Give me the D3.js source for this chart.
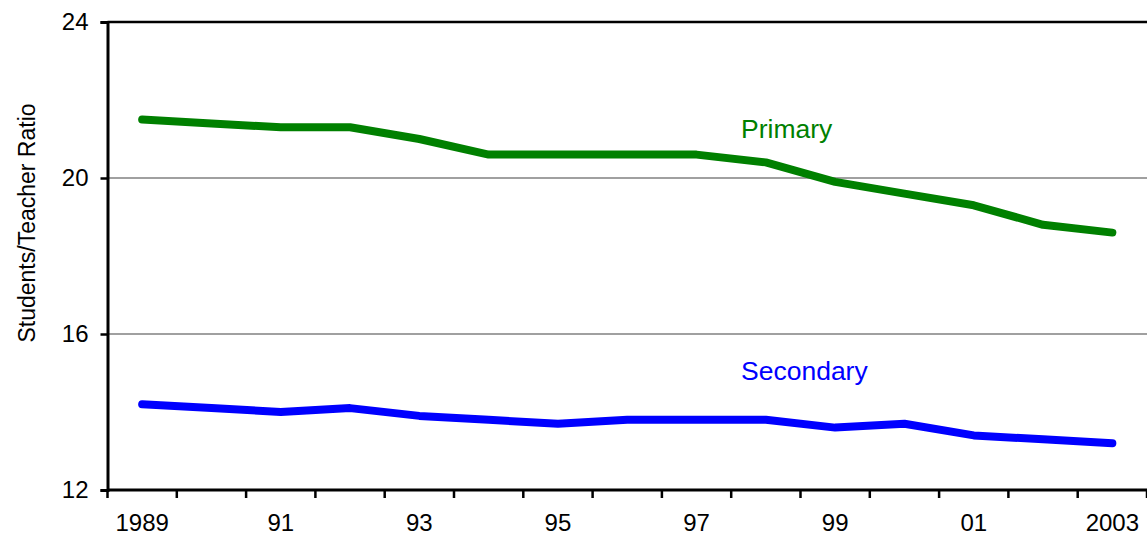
<!DOCTYPE html>
<html><head><meta charset="utf-8">
<script src="https://cdn.jsdelivr.net/npm/d3@7/dist/d3.min.js"></script>
<style>body{margin:0;background:#fff}svg{display:block}text{font-family:"Liberation Sans",Arial,sans-serif}</style>
</head><body><svg id="c" width="1147" height="535"></svg>
<script>
const years = [1989,1990,1991,1992,1993,1994,1995,1996,1997,1998,1999,2000,2001,2002,2003];
const yearLabels = {1989:"1989",1991:"91",1993:"93",1995:"95",1997:"97",1999:"99",2001:"01",2003:"2003"};
const primary = [21.5,21.4,21.3,21.3,21.0,20.6,20.6,20.6,20.6,20.4,19.9,19.6,19.3,18.8,18.6];
const secondary = [14.2,14.1,14.0,14.1,13.9,13.8,13.7,13.8,13.8,13.8,13.6,13.7,13.4,13.3,13.2];
const yTicks = [12,16,20,24];
const gridValues = [16,20];
const seriesNames = ["Primary","Secondary"];
const yTitle = "Students/Teacher Ratio";

const svg = d3.select("#c");
const L = 107.5, R = 1147, T = 22, B = 490;
const xb = d3.scaleBand().domain(years).range([L, R]).padding(0);
const x = d3.scalePoint().domain(years).range([L, R]).padding(0.5);
const y = d3.scaleLinear().domain([12,24]).range([B, T]);

// gridlines
svg.append("g").selectAll("line").data(gridValues).join("line")
  .attr("x1", L).attr("x2", R).attr("y1", d=>y(d)).attr("y2", d=>y(d))
  .attr("stroke", "#a0a0a0").attr("stroke-width", 2);
// top border
svg.append("line").attr("x1", L).attr("x2", R).attr("y1", y(24)).attr("y2", y(24))
  .attr("stroke", "#000").attr("stroke-width", 2.5);

// y axis
const yAxis = d3.axisLeft(y).tickValues(yTicks).tickSize(7).tickPadding(12).tickFormat(d3.format("d"));
const gy = svg.append("g").attr("transform", `translate(${L},0)`).call(yAxis);
gy.select(".domain").attr("stroke-width", 3);
gy.selectAll(".tick line").attr("stroke-width", 2.5);
gy.selectAll(".tick text").attr("font-size", 24).attr("fill", "#000").attr("font-family", '"Liberation Sans", Arial, sans-serif');

// x axis ticks at band boundaries
const boundaries = years.map(d => xb(d)).concat([R]);
const gx = svg.append("g");
gx.append("line").attr("x1", L).attr("x2", R).attr("y1", B).attr("y2", B).attr("stroke", "#000").attr("stroke-width", 3);
gx.selectAll("line.t").data(boundaries).join("line").attr("class","t")
  .attr("x1", d=>d).attr("x2", d=>d).attr("y1", B).attr("y2", B+8)
  .attr("stroke", "#000").attr("stroke-width", 2.5);
gx.selectAll("text").data(years.filter(d => yearLabels[d])).join("text")
  .attr("x", d => x(d)).attr("y", 531).attr("text-anchor", "middle")
  .attr("font-size", 24).attr("fill", "#000").text(d => yearLabels[d]);

// axis title
svg.append("text").attr("transform", `translate(35,223) rotate(-90)`)
  .attr("text-anchor", "middle").attr("font-size", 23).attr("fill", "#000").text(yTitle);

// lines
const line = d3.line().x((d,i) => x(years[i])).y(d => y(d));
const colors = ["#008000", "#0000ff"];
[primary, secondary].forEach((s, k) => {
  svg.append("path").datum(s).attr("d", line).attr("fill", "none")
    .attr("stroke", colors[k]).attr("stroke-width", 8)
    .attr("stroke-linecap", "round").attr("stroke-linejoin", "round");
});

// series labels
svg.append("text").attr("x", 741).attr("y", 138).attr("font-size", 26.5).attr("fill", colors[0]).text(seriesNames[0]);
svg.append("text").attr("x", 741).attr("y", 380).attr("font-size", 26.5).attr("fill", colors[1]).text(seriesNames[1]);
</script></body></html>
